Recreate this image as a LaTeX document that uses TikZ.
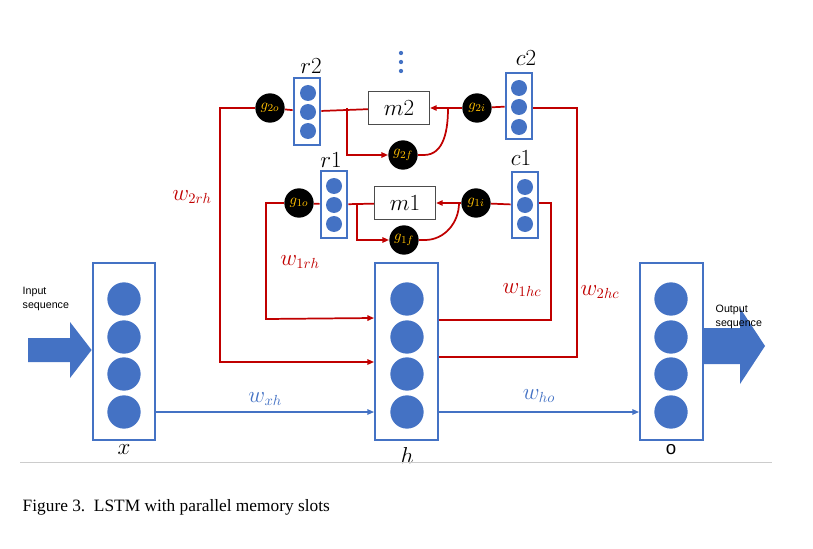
\documentclass[tikz,border=0pt]{standalone}
\usepackage{fontspec}
\setmainfont{Liberation Serif}
\newfontfamily\sansf{Liberation Sans}
\usetikzlibrary{arrows.meta}
\definecolor{rd}{RGB}{192,0,0}
\definecolor{bl}{RGB}{68,114,196}
\definecolor{yl}{RGB}{255,192,0}
\begin{document}
\begin{tikzpicture}[x=0.75pt,y=-0.75pt,
  bigbox/.style={draw=bl,line width=1.6pt,minimum width=47pt,minimum height=133pt,inner sep=0},
  smallbox/.style={draw=bl,line width=1.6pt,minimum width=20pt,minimum height=50pt,inner sep=0},
  bigdot/.style={circle,fill=bl,minimum width=23pt,minimum height=25pt,inner sep=0},
  dot/.style={circle,fill=bl,minimum size=12pt,inner sep=0},
  vdot/.style={circle,fill=bl,minimum size=3.2pt,inner sep=0},
  gate/.style={circle,fill=black,minimum size=22pt,inner sep=0,text=yl,font=\fontsize{11}{11}\selectfont},
  mem/.style={draw=black!70,line width=0.6pt,minimum width=46pt,minimum height=25pt,inner sep=0,font=\fontsize{16}{16}\selectfont},
  rl/.style={draw=rd,line width=1.3pt},
  bll/.style={draw=bl,line width=1.1pt},
  arr/.style={-{Triangle[length=5pt,width=4pt]}},
  lab/.style={font=\fontsize{16}{16}\selectfont},
  wr/.style={text=rd,font=\fontsize{16}{16}\selectfont},
  wb/.style={text=bl,font=\fontsize{16}{16}\selectfont},
  sm/.style={font=\sansf\fontsize{8}{10}\selectfont,align=left}]
\useasboundingbox (0,0) rectangle (813,549);
% main layers
\node[bigbox] (x) at (124,351.5) {};
\node[bigbox] (h) at (406.5,351.5) {};
\node[bigbox] (o) at (671.5,351.5) {};
\foreach \n/\cx in {x/124,h/407,o/671}{
  \foreach \i/\cy in {1/299,2/337,3/374,4/412}{
    \node[bigdot] (\n\i) at (\cx,\cy) {};}}
\node[lab] (xl) at (124,450) {$x$};
\node[lab] (hl) at (407,455) {$h$};
\node[lab,font=\sansf\fontsize{14}{14}\selectfont] (ol) at (671,450) {o};
% input / output arrows
\fill[bl] (28,338) -- (70,338) -- (70,322) -- (x.west |- 0,350) -- (70,378) -- (70,362) -- (28,362) -- cycle;
\fill[bl] (o.east |- 0,328) -- (740,328) -- (740,308) -- (765,346) -- (740,384) -- (740,364) -- (o.east |- 0,364) -- cycle;
\node[sm,anchor=west] (inL) at (18,299) {Input\\sequence};
\node[sm,anchor=west] (outL) at (711,317) {Output\\sequence};
% memory slot 2
\node[smallbox] (r2) at (307,111.5) {};
\node[smallbox] (c2) at (519,106) {};
\foreach \cy [count=\i] in {93,112,131}{\node[dot] (r2d\i) at (308,\cy) {};}
\foreach \cy [count=\i] in {88,107,127}{\node[dot] (c2d\i) at (519,\cy) {};}
\node[lab] (r2l) at (311,66) {$r2$};
\node[lab] (c2l) at (526,58) {$c2$};
\node[mem] (m2) at (399,108) {$m2$};
\node[gate] (g2o) at (270,108) {$g_{2o}$};
\node[gate] (g2i) at (477,108) {$g_{2i}$};
\node[gate] (g2f) at (403,155) {$g_{2f}$};
\foreach \cy [count=\i] in {53,62,71}{\node[vdot] (vd\i) at (401,\cy) {};}
% memory slot 1
\node[smallbox] (r1) at (334,204.5) {};
\node[smallbox] (c1) at (525,205) {};
\foreach \cy [count=\i] in {186,205,224}{\node[dot] (r1d\i) at (334,\cy) {};}
\foreach \cy [count=\i] in {187,205,224}{\node[dot] (c1d\i) at (525,\cy) {};}
\node[lab] (r1l) at (331,160) {$r1$};
\node[lab] (c1l) at (521,158) {$c1$};
\node[mem] (m1) at (405,203) {$m1$};
\node[gate] (g1o) at (299,203) {$g_{1o}$};
\node[gate] (g1i) at (476,203) {$g_{1i}$};
\node[gate] (g1f) at (404,240) {$g_{1f}$};
% blue connectors
\draw[bll,arr] (x.east |- x4) -- (h.west |- h4) node[midway,above,wb,yshift=1pt] (wxh) {$w_{xh}$};
\draw[bll,arr] (h.east |- h4) -- (o.west |- o4) node[midway,above,wb,yshift=3pt] (who) {$w_{ho}$};
% slot 2 connectors
\coordinate (b2) at (347,108);
\coordinate (j2) at (448,108);
\draw[rl] (g2o) -- (r2);
\draw[rl] (r2) -- (m2);
\draw[rl,arr] (b2) |- (g2f);
\draw[rl,arr] (g2i) -- (m2);
\draw[rl] (g2i) -- (c2);
\draw[rl] (g2f.east) -- ++(6,0) to[out=0,in=-90] (j2);
\draw[rl,arr] (g2o.west) -- (220,108) -- (220,362) -- (h.west |- 0,362);
\draw[rl] (c2.east |- g2i) -- (577,108) -- (577,357) -- (h.east |- 0,357);
% slot 1 connectors
\coordinate (b1) at (357,203);
\coordinate (j1) at (459,203);
\draw[rl] (g1o) -- (r1);
\draw[rl] (r1) -- (m1);
\draw[rl,arr] (b1) |- (g1f);
\draw[rl,arr] (g1i) -- (m1);
\draw[rl] (g1i) -- (c1);
\draw[rl] (g1f.east) -- ++(6,0) to[out=0,in=-90] (j1);
\draw[rl,arr] (g1o.west) -- (266,203) -- (266,319) -- (h.west |- 0,318);
\draw[rl] (c1.east |- g1i) -- (551,203) -- (551,320) -- (h.east |- 0,320);
% weight labels
\node[wr] (w2rh) at (192,197) {$w_{2rh}$};
\node[wr] (w1rh) at (300,262) {$w_{1rh}$};
\node[wr] (w1hc) at (522,290) {$w_{1hc}$};
\node[wr] (w2hc) at (600,292) {$w_{2hc}$};
% caption
\draw[black!20,line width=0.6pt] (20,462) -- (772,462);
\node[anchor=west,font=\fontsize{13}{13}\selectfont] (cap) at (18,507) {Figure 3.\ \ LSTM with parallel memory slots};
\end{tikzpicture}
\end{document}
